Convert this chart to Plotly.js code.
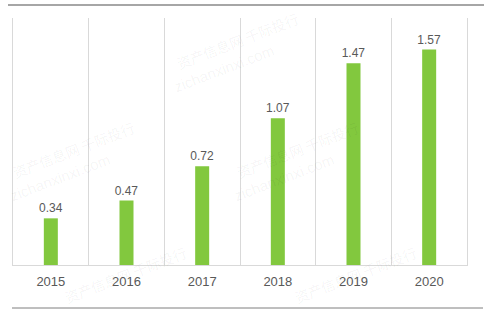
<!DOCTYPE html>
<html>
<head>
<meta charset="utf-8">
<script src="https://cdn.plot.ly/plotly-3.0.1.min.js"></script>
<style>
  html, body { margin: 0; padding: 0; background: #ffffff; }
  #chart { width: 488px; height: 316px; }
</style>
</head>
<body>
<div id="chart"></div>
<script>
// Data
const years = ['2015', '2016', '2017', '2018', '2019', '2020'];
const values = [0.34, 0.47, 0.72, 1.07, 1.47, 1.57];
const valueLabels = ['0.34', '0.47', '0.72', '1.07', '1.47', '1.57'];

// Watermark text
const wmLine1 = '资产信息网 千际投行';
const wmLine2 = 'zichanxinxi.com';
const wmAnchors = [[172, 66, true], [8, 175, true], [232, 175, true], [60, 300, false], [290, 300, false]];

const W = 488, H = 316;
const margin = {l: 13, r: 21, t: 18, b: 51};
const pw = W - margin.l - margin.r, ph = H - margin.t - margin.b;
const px = x => (x - margin.l) / pw;
const py = y => (H - margin.b - y) / ph;

const annotations = [];
wmAnchors.forEach(([x0, y0, withUrl]) => {
  annotations.push({
    xref: 'paper', yref: 'paper', x: px(x0 + 65), y: py(y0 - 25),
    text: wmLine1, showarrow: false, textangle: -21,
    font: {family: 'Noto Sans CJK SC', size: 14, color: 'rgba(0,0,0,0.05)'},
    xanchor: 'center', yanchor: 'middle'
  });
  if (withUrl) {
    annotations.push({
      xref: 'paper', yref: 'paper', x: px(x0 + 52), y: py(y0 + 2),
      text: wmLine2, showarrow: false, textangle: -21,
      font: {family: 'Liberation Sans', size: 15, color: 'rgba(0,0,0,0.05)'},
      xanchor: 'center', yanchor: 'middle'
    });
  }
});

const trace = {
  type: 'bar',
  x: years,
  y: values,
  text: valueLabels,
  textposition: 'outside',
  constraintext: 'none',
  cliponaxis: false,
  textfont: {family: 'Liberation Sans', size: 12, color: '#595959'},
  marker: {color: '#82c83e', line: {width: 0}},
  width: 0.185,
  hoverinfo: 'none'
};

const layout = {
  width: W, height: H,
  margin: margin,
  paper_bgcolor: '#ffffff',
  plot_bgcolor: '#ffffff',
  showlegend: false,
  bargap: 0.8,
  xaxis: {
    type: 'category',
    tickson: 'boundaries',
    showgrid: true,
    gridcolor: '#d9d9d9',
    gridwidth: 1,
    showline: true,
    linecolor: '#d9d9d9',
    linewidth: 1,
    ticks: '',
    ticklabelstandoff: 4,
    tickfont: {family: 'Liberation Sans', size: 13, color: '#595959'},
    fixedrange: true
  },
  yaxis: {
    range: [0, 1.8],
    showgrid: false,
    zeroline: false,
    showticklabels: false,
    showline: true,
    mirror: true,
    linecolor: '#d9d9d9',
    linewidth: 1,
    ticks: '',
    fixedrange: true
  },
  shapes: [
    {type: 'line', xref: 'paper', yref: 'paper', x0: px(8), x1: px(484), y0: py(5), y1: py(5),
     line: {color: '#a6a6a6', width: 2}},
    {type: 'line', xref: 'paper', yref: 'paper', x0: px(12), x1: px(483), y0: py(308), y1: py(308),
     line: {color: '#7f7f7f', width: 1}}
  ],
  annotations: annotations
};

Plotly.newPlot('chart', [trace], layout, {displayModeBar: false, staticPlot: true});
</script>
</body>
</html>
